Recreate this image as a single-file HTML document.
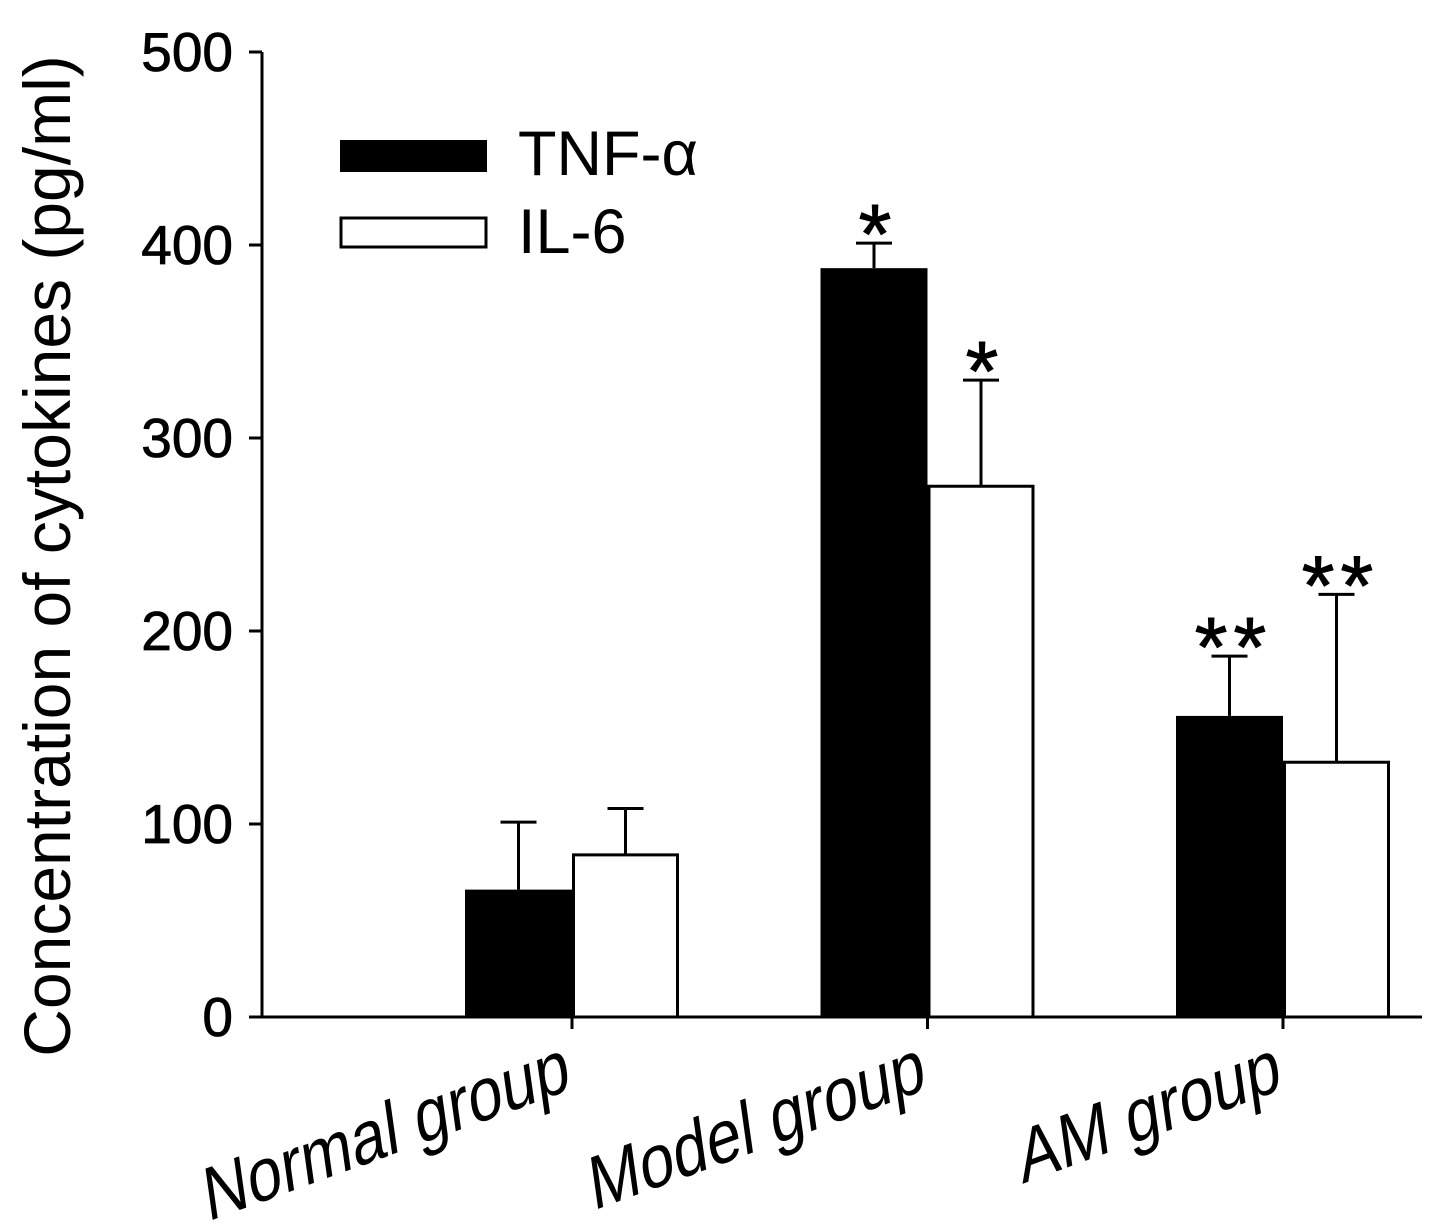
<!DOCTYPE html>
<html><head><meta charset="utf-8"><style>
html,body{margin:0;padding:0;background:#fff;}
svg{display:block;font-family:"Liberation Sans",Arial,sans-serif;}
</style></head><body>
<svg id="chart" width="1441" height="1232" viewBox="0 0 1441 1232">
<g id="axes"></g>
<g id="bars"></g>
<g>
<rect x="340" y="140" width="147" height="32" fill="#000"/>
<text x="518" y="175" font-size="63">TNF-α</text>
<rect x="341" y="218" width="145" height="29" fill="#fff" stroke="#000" stroke-width="3"/>
<text x="518" y="253" font-size="63">IL-6</text>
</g>
<text transform="translate(70,556) rotate(-90)" text-anchor="middle" font-size="66">Concentration of cytokines (pg/ml)</text>
</svg>
<script>
const categories = ["Normal group","Model group","AM group"];
const tnfValues = [66, 388, 156];
const tnfErrors = [35, 13, 31];
const il6Values = [84, 275, 132];
const il6Errors = [24, 55, 87];
const tnfMarks = ["", "*", "**"];
const il6Marks = ["", "*", "**"];
const yTicks = [0,100,200,300,400,500];

const NS="http://www.w3.org/2000/svg";
const x0=262, x1=1422, yBase=1017, yTop=52, yMax=500;
const y = v => yBase - (v/yMax)*(yBase-yTop);
const catCenter = i => 572 + i*355.5;
const barW = 107;
function mk(tag, attrs, parent){const e=document.createElementNS(NS,tag);for(const k in attrs)e.setAttribute(k,attrs[k]);parent.appendChild(e);return e;}
const axes=document.getElementById('axes'), bars=document.getElementById('bars');

let l=mk('line',{x1:x0,y1:yTop,x2:x0,y2:yBase,stroke:'#000','stroke-width':3},axes);


l=mk('line',{x1:x0,y1:yBase,x2:x1,y2:yBase,stroke:'#000','stroke-width':3},axes);


yTicks.forEach(t=>{
  const tk=mk('line',{x1:249,y1:y(t),x2:x0,y2:y(t),stroke:'#000','stroke-width':3},axes);
  
  
  const tx=mk('text',{x:233,y:y(t)+19,'text-anchor':'end','font-size':55,'stroke':'#000','stroke-width':0.8},axes);
  tx.textContent=t;
  
  
});
categories.forEach((c,i)=>{
  const cx=catCenter(i);
  const tk=mk('line',{x1:cx,y1:yBase,x2:cx,y2:yBase+12,stroke:'#000','stroke-width':3},axes);
  
  
  const tx=mk('text',{'text-anchor':'end','font-size':64,transform:`translate(${cx},${yBase+72}) rotate(-20) skewX(-12) scale(1,1.15)`},axes);
  tx.textContent=c;
  
  

  const bx=cx-barW;
  const b1=mk('rect',{x:bx,y:y(tnfValues[i]),width:barW,height:yBase-y(tnfValues[i]),fill:'#000'},bars);
  
  
  const ex1=bx+barW/2;
  const e1=mk('path',{d:`M${ex1},${y(tnfValues[i])} V${y(tnfValues[i]+tnfErrors[i])} M${ex1-18},${y(tnfValues[i]+tnfErrors[i])} H${ex1+18}`,stroke:'#000','stroke-width':3,fill:'none'},bars);
  
  
  if(tnfMarks[i]){const s=mk('text',{x:ex1+4,y:y(tnfValues[i]+tnfErrors[i])+20,'text-anchor':'middle','font-size':84,'letter-spacing':6,stroke:'#000','stroke-width':1},bars);s.textContent=tnfMarks[i];
  
  }

  const b2=mk('rect',{x:cx+1.5,y:y(il6Values[i]),width:barW-3,height:yBase-y(il6Values[i]),fill:'#fff',stroke:'#000','stroke-width':3},bars);
  
  
  const ex2=cx+barW/2;
  const e2=mk('path',{d:`M${ex2},${y(il6Values[i])} V${y(il6Values[i]+il6Errors[i])} M${ex2-18},${y(il6Values[i]+il6Errors[i])} H${ex2+18}`,stroke:'#000','stroke-width':3,fill:'none'},bars);
  
  
  if(il6Marks[i]){const s=mk('text',{x:ex2+4,y:y(il6Values[i]+il6Errors[i])+20,'text-anchor':'middle','font-size':84,'letter-spacing':6,stroke:'#000','stroke-width':1},bars);s.textContent=il6Marks[i];
  
  }
});
</script>
</body></html>
